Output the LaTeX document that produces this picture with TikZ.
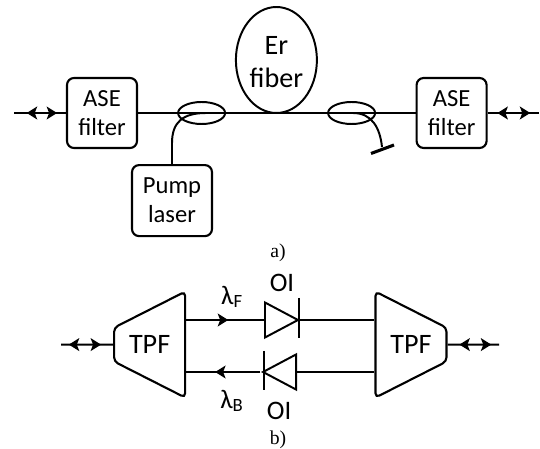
\documentclass[tikz,border=0pt]{standalone}
\usepackage{fontspec}
\setmainfont{Carlito}
\newfontfamily\captionfont{Liberation Serif}
\usetikzlibrary{arrows.meta,calc,shapes.geometric,decorations.markings}
\tikzset{
  fiber line/.style={draw=black, line width=1.4pt},
  filter box/.style={
    rectangle, rounded corners=5pt, draw=black, line width=1.5pt,
    minimum width=1.75cm, minimum height=1.75cm,
    inner sep=0pt, font=\fontsize{17.5}{20.6}\selectfont, align=center
  },
  coupler/.style={ellipse, draw=black, line width=1.4pt, minimum width=1.175cm, minimum height=0.55cm, inner sep=0pt},
  tpf box/.style={
    trapezium, trapezium stretches=true, trapezium angle=65,
    draw=black, line width=1.5pt, rounded corners=3pt,
    minimum width=2.65cm, minimum height=1.775cm,
    inner sep=0pt, font=\fontsize{20}{24}\selectfont
  },
  diode/.style={
    isosceles triangle, isosceles triangle stretches=true,
    draw=black, line width=1.4pt, minimum width=0.875cm, minimum height=0.825cm, inner sep=0pt
  },
  fiber label/.style={inner sep=0pt, font=\fontsize{19}{23}\selectfont},
  part label/.style={inner sep=0pt, font=\captionfont\fontsize{14}{16}\selectfont},
  % tips at two fractions of the line, one pointing back and one forward
  two way/.style 2 args={
    fiber line,
    postaction={decorate},
    decoration={markings,
      mark=at position #1 with {\arrowreversed{Stealth[length=2.6mm,width=3.2mm,inset=0.6mm]}},
      mark=at position #2 with {\arrow{Stealth[length=2.6mm,width=3.2mm,inset=0.6mm]}}}
  },
  one way/.style={
    fiber line,
    postaction={decorate},
    decoration={markings, mark=at position #1 with {\arrow{Stealth[length=2.6mm,width=3.2mm,inset=0.6mm]}}}
  }
}

\begin{document}
\begin{tikzpicture}
  \useasboundingbox (0,0) rectangle (13.5,11.225);

  % a) amplifier
  \node[filter box] (aseleft) at (2.55,8.4) {ASE\\filter};
  \node[filter box] (aseright) at (11.29,8.4) {ASE\\filter};
  \node[filter box,minimum width=2cm,minimum height=1.775cm] (pump) at (4.3,6.21) {Pump\\laser};
  \node[ellipse,draw=black,line width=1.4pt,minimum width=2.025cm,minimum height=2.65cm,inner sep=0pt] (erfiber) at (6.91,9.725) {};
  \node[inner sep=0pt,font=\fontsize{20}{23.5}\selectfont,align=center,yshift=-1.5pt] (erlabel) at (erfiber) {Er\\fiber};
  \node[coupler] (couplerone) at (5.04,8.4) {};
  \node[coupler] (couplertwo) at (8.79,8.4) {};
  \node[part label] (parta) at (6.95,4.9) {a)};

  \coordinate (inleft) at (0.35,8.4);
  \coordinate (inright) at (13.475,8.4);
  \coordinate (pumpbend) at (4.3,7.65);
  \coordinate (pumpjoin) at (5.15,8.4);
  \coordinate (dumpjoin) at (8.825,8.4);
  \coordinate (dumpend) at (9.55,7.55);
  \coordinate (dumpa) at (9.275,7.3875);
  \coordinate (dumpb) at (9.85,7.6);

  \draw[two way={0.245}{0.83}] (inleft) -- (aseleft.west);
  \draw[fiber line] (aseleft.east) -- (aseright.west);
  \draw[two way={0.19}{0.83}] (aseright.east) -- (inright);
  \draw[fiber line] (pump.north) -- (pumpbend) .. controls (4.3,8.175) and (4.575,8.4) .. (pumpjoin);
  \draw[fiber line] (dumpjoin) .. controls (9.3,8.4) and (9.5,8.025) .. (dumpend);
  \draw[line width=2.2pt] (dumpa) -- (dumpb);

  % b) bidirectional isolator
  \node[tpf box,shape border rotate=90] (tpfleft) at (3.74,2.61) {TPF};
  \node[tpf box,shape border rotate=270] (tpfright) at (10.275,2.61) {TPF};
  \node[diode,anchor=lower side] (oiforward) at (6.6,3.225) {};
  \node[diode,shape border rotate=180,anchor=lower side] (oibackward) at (7.425,1.925) {};
  \coordinate (barforward) at (7.475,3.225);
  \coordinate (barbackward) at (6.6,1.925);

  \draw[line width=1.4pt] ($(barforward)+(0,0.55)$) -- ($(barforward)+(0,-0.45)$);
  \draw[line width=1.4pt] ($(barbackward)+(0,0.525)$) -- ($(barbackward)+(0,-0.45)$);

  \draw[one way=0.54] (tpfleft.east |- oiforward.lower side) -- (oiforward.lower side);
  \draw[fiber line] (barforward) -- (barforward -| tpfright.west);
  \draw[one way=0.61] (oibackward.apex) -- (oibackward.apex -| tpfleft.east);
  \draw[fiber line] (oibackward.lower side) -- (oibackward.lower side -| tpfright.west);

  \coordinate (outleft) at (1.525,2.61);
  \coordinate (outright) at (12.475,2.61);
  \draw[two way={0.15}{0.77}] (outleft) -- (tpfleft.west);
  \draw[two way={0.23}{0.85}] (tpfright.east) -- (outright);

  \node[fiber label] (lambdaf) at (5.8,3.8) {λ\textsubscript{F}};
  \node[fiber label] (lambdab) at (5.8,1.2) {λ\textsubscript{B}};
  \node[fiber label] (oitop) at (7.05,4.15) {OI};
  \node[fiber label] (oibottom) at (6.98,0.95) {OI};
  \node[part label] (partb) at (6.95,0.225) {b)};
\end{tikzpicture}
\end{document}
